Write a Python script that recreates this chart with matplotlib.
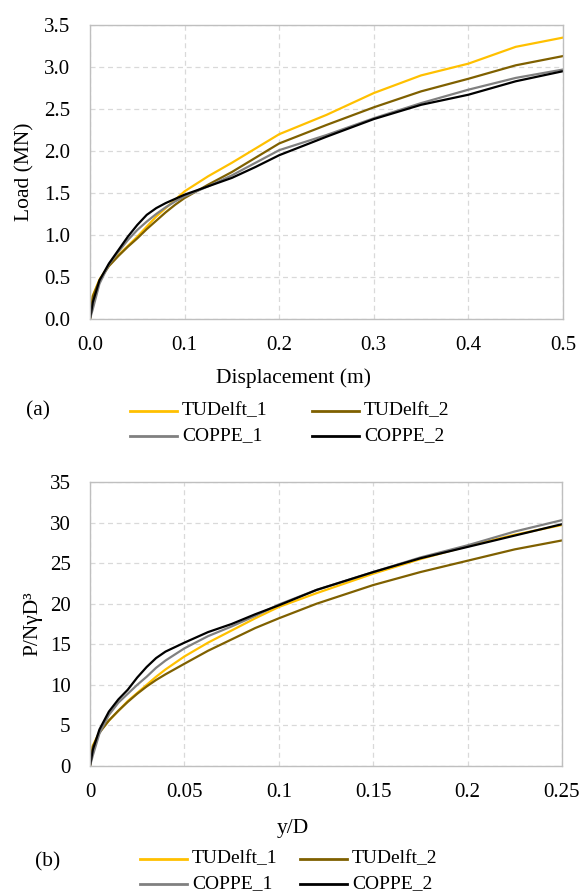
import matplotlib
matplotlib.use("Agg")
import matplotlib.pyplot as plt
from matplotlib.lines import Line2D

plt.rcParams['font.family'] = ['Liberation Serif', 'DejaVu Serif']

series_names = ["TUDelft_1", "TUDelft_2", "COPPE_1", "COPPE_2"]
series_colors = ["#FFC000", "#7F6000", "#808080", "#000000"]

# (a) Load vs displacement
disp_m = [0, 0.003, 0.01, 0.02, 0.03, 0.04, 0.05, 0.06, 0.07, 0.08, 0.09, 0.1,
          0.125, 0.15, 0.175, 0.2, 0.25, 0.3, 0.35, 0.4, 0.45, 0.5]
load_tud1 = [0, 0.28, 0.47, 0.64, 0.76, 0.87, 0.98, 1.10, 1.22, 1.32, 1.42, 1.52,
             1.70, 1.86, 2.03, 2.20, 2.43, 2.69, 2.90, 3.04, 3.24, 3.35]
load_tud2 = [0, 0.27, 0.46, 0.63, 0.75, 0.86, 0.96, 1.07, 1.17, 1.27, 1.36, 1.44,
             1.60, 1.75, 1.92, 2.09, 2.31, 2.52, 2.71, 2.86, 3.02, 3.13]
load_cop1 = [0, 0.12, 0.42, 0.65, 0.80, 0.94, 1.06, 1.16, 1.25, 1.33, 1.40, 1.46,
             1.58, 1.71, 1.86, 2.01, 2.19, 2.39, 2.57, 2.73, 2.87, 2.97]
load_cop2 = [0, 0.20, 0.46, 0.66, 0.82, 0.98, 1.12, 1.24, 1.32, 1.38, 1.43, 1.48,
             1.58, 1.68, 1.81, 1.95, 2.17, 2.38, 2.55, 2.67, 2.83, 2.95]

# (b) normalised
yD = [0, 0.0015, 0.005, 0.01, 0.015, 0.02, 0.025, 0.03, 0.035, 0.04, 0.05, 0.0625,
      0.075, 0.0875, 0.1, 0.12, 0.15, 0.175, 0.2, 0.225, 0.25]
norm_tud1 = [0, 2.5, 4.2, 5.6, 6.8, 8.0, 9.0, 10.0, 11.0, 11.9, 13.5, 15.2,
             16.7, 18.2, 19.6, 21.3, 23.7, 25.5, 27.1, 28.5, 29.7]
norm_tud2 = [0, 2.4, 4.1, 5.6, 6.8, 7.9, 8.9, 9.8, 10.6, 11.3, 12.6, 14.2,
             15.6, 17.0, 18.2, 20.0, 22.3, 23.9, 25.3, 26.7, 27.8]
norm_cop1 = [0, 1.3, 4.0, 6.3, 7.8, 8.9, 10.0, 11.0, 12.1, 13.0, 14.5, 16.0,
             17.2, 18.5, 19.9, 21.7, 23.9, 25.7, 27.2, 28.9, 30.3]
norm_cop2 = [0, 2.0, 4.5, 6.7, 8.2, 9.4, 10.9, 12.2, 13.3, 14.1, 15.2, 16.5,
             17.5, 18.7, 19.8, 21.7, 23.9, 25.6, 27.0, 28.4, 29.8]

xticks_a = [0.0, 0.1, 0.2, 0.3, 0.4, 0.5]
yticks_a = [0.0, 0.5, 1.0, 1.5, 2.0, 2.5, 3.0, 3.5]
xticks_b = [0, 0.05, 0.1, 0.15, 0.2, 0.25]
xticklabels_b = ["0", "0.05", "0.1", "0.15", "0.2", "0.25"]
yticks_b = [0, 5, 10, 15, 20, 25, 30, 35]

W, H = 580, 896
fig = plt.figure(figsize=(W / 100, H / 100), dpi=100)


def style(ax):
    for s in ax.spines.values():
        s.set_color("#BFBFBF")
        s.set_linewidth(1.0)
    ax.grid(True, color="#D9D9D9", linestyle=(0, (4, 3)), linewidth=0.9)
    ax.set_axisbelow(True)
    ax.tick_params(length=0, labelsize=15, colors="#000000")
    ax.tick_params(axis="y", pad=14)
    ax.tick_params(axis="x", pad=12)


def px_axes(l, t, r, b):
    return fig.add_axes([l / W, 1 - b / H, (r - l) / W, (b - t) / H])


ax1 = px_axes(90, 25, 563, 319)
for y, c in zip([load_tud1, load_tud2, load_cop1, load_cop2], series_colors):
    ax1.plot(disp_m, y, color=c, linewidth=1.6)
ax1.set_xlim(0, 0.5)
ax1.set_ylim(0, 3.5)
ax1.set_xticks(xticks_a)
ax1.set_xticklabels([f"{v:.1f}" for v in xticks_a])
ax1.set_yticks(yticks_a)
ax1.set_yticklabels([f"{v:.1f}" for v in yticks_a])
style(ax1)

ax2 = px_axes(90, 482, 562, 766)
for y, c in zip([norm_tud1, norm_tud2, norm_cop1, norm_cop2], series_colors):
    ax2.plot(yD, y, color=c, linewidth=1.6)
ax2.set_xlim(0, 0.25)
ax2.set_ylim(0, 35)
ax2.set_xticks(xticks_b)
ax2.set_xticklabels(xticklabels_b)
ax2.set_yticks(yticks_b)
style(ax2)

# Axis labels
fig.text(25 / W, 1 - 172 / H, "Load (MN)", rotation=90, ha="center", va="center", fontsize=15.5)
fig.text(293 / W, 1 - 378 / H, "Displacement (m)", ha="center", va="center", fontsize=15.5)
fig.text(33 / W, 1 - 624 / H, "P/NγD³", rotation=90, ha="center", va="center", fontsize=15.5)
fig.text(293 / W, 1 - 828 / H, "y/D", ha="center", va="center", fontsize=15.5)

fig.text(38 / W, 1 - 411 / H, "(a)", ha="center", va="center", fontsize=15.5)
fig.text(48 / W, 1 - 862 / H, "(b)", ha="center", va="center", fontsize=15.5)


def legend(x1, x2, y1, y2, L):
    pos = [(x1, y1), (x2, y1), (x1, y2), (x2, y2)]
    for (x, y), name, c in zip(pos, series_names, series_colors):
        fig.add_artist(Line2D([x / W, (x + L) / W], [1 - y / H, 1 - y / H],
                              color=c, linewidth=2.0, transform=fig.transFigure))
        fig.text((x + L + 5) / W, 1 - y / H, name, ha="left", va="center", fontsize=14)


legend(130, 312, 411, 436, 47)
legend(140, 300, 859, 884, 47)

fig.savefig("out.png", dpi=100)
